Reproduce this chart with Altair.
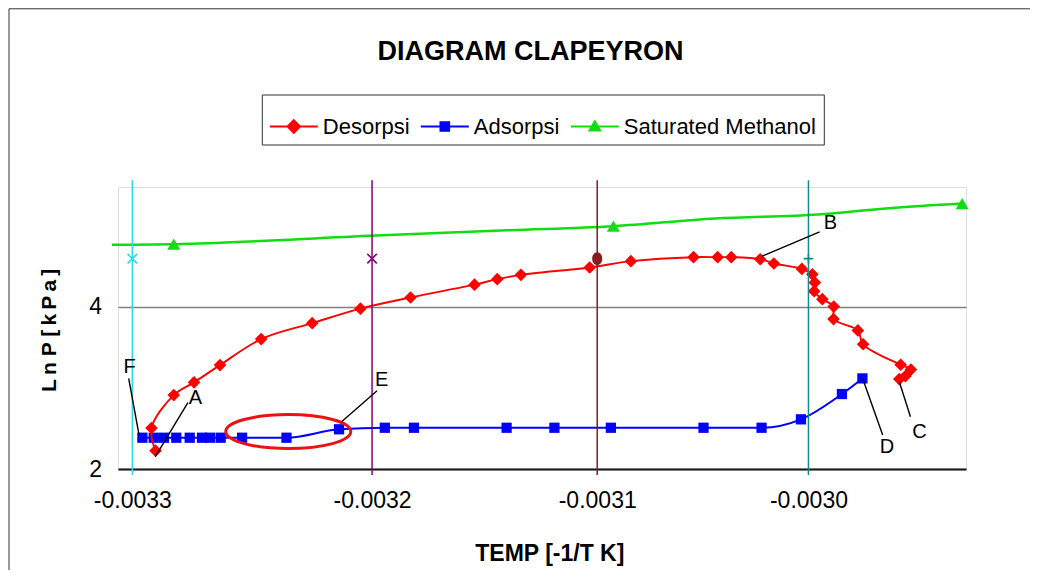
import altair as alt
import pandas as pd

# ---------------- data ----------------
chart_title = "DIAGRAM CLAPEYRON"
x_title = "TEMP [-1/T K]"
y_title = "L\u2009n P [\u2009k\u2009P\u2009a\u2009]"

series_names = ["Desorpsi", "Adsorpsi", "Saturated Methanol"]
series_colors = ["#FF0000", "#0000FF", "#11DD11"]

des_x = [-0.0032885, -0.0032903, -0.0032805, -0.0032716, -0.0032602, -0.0032421, -0.0032197, -0.0031985,
         -0.0031765, -0.0031484, -0.0031384, -0.0031280, -0.0030978, -0.0030797, -0.0030522, -0.0030416,
         -0.0030356, -0.0030229, -0.0030169, -0.0030046, -0.0030000, -0.0029989, -0.0029992, -0.0029956,
         -0.0029906, -0.0029907, -0.0029800, -0.0029777, -0.0029612, -0.0029567, -0.0029591, -0.0029618]
des_y = [2.226, 2.506, 2.912, 3.069, 3.282, 3.603, 3.800, 3.979, 4.117, 4.275, 4.343, 4.396, 4.487, 4.565,
         4.614, 4.614, 4.614, 4.589, 4.536, 4.469, 4.402, 4.300, 4.195, 4.096, 4.004, 3.850, 3.710, 3.539,
         3.286, 3.227, 3.147, 3.110]

ads_x = [-0.0032943, -0.0032893, -0.0032848, -0.0032794, -0.0032735, -0.0032681, -0.0032646, -0.0032599,
         -0.0032505, -0.0032310, -0.0032079, -0.0031878, -0.0031750, -0.0031343, -0.0031133, -0.0030885,
         -0.0030478, -0.0030223, -0.0030050, -0.0029870, -0.0029780]
ads_y = [2.386, 2.386, 2.386, 2.386, 2.386, 2.386, 2.386, 2.386, 2.386, 2.386, 2.490, 2.509, 2.509, 2.509,
         2.509, 2.509, 2.509, 2.509, 2.613, 2.925, 3.118]

sat_x = [-0.0033077, -0.0032805, -0.0031917, -0.0031328, -0.0030874, -0.0030427, -0.0029976, -0.0029650,
         -0.0029342]
sat_y = [4.766, 4.774, 4.882, 4.947, 4.996, 5.091, 5.141, 5.222, 5.276]
sat_marked = [0, 1, 0, 0, 1, 0, 0, 0, 1]

# isotherm lines (30, 40, 50, 60 degC as -1/T) -- also the x tick positions
temp_x = [-0.0032987, -0.0031934, -0.0030945, -0.0030017]
temp_colors = ["#2ED8EC", "#800080", "#8B1A1A", "#138A8A"]
temp_marker = ["x", "x", "circle", "plus"]
temp_marker_y = [4.596, 4.596, 4.596, 4.596]
temp_top = [5.563, 5.563, 5.563, 5.563]
temp_bottom = [1.926, 1.926, 1.926, 1.926]

y_ticks = [2, 4]

# point labels with leader lines
lab_text = ["A", "F", "E", "B", "C", "D"]
lab_x = [-0.0032710, -0.0032999, -0.0031892, -0.0029921, -0.0029529, -0.0029672]
lab_y = [2.872, 3.261, 3.097, 5.030, 2.460, 2.275]
lead_x1 = [-0.0032743, -0.0033003, -0.0031912, -0.0029968, -0.0029569, -0.0029691]
lead_y1 = [2.818, 3.118, 2.965, 4.926, 2.645, 2.419]
lead_x2 = [-0.0032886, -0.0032958, -0.0032068, -0.0030221, -0.0029618, -0.0029779]
lead_y2 = [2.152, 2.428, 2.583, 4.626, 3.076, 3.118]

# highlight ellipse centre
ell_x = [-0.0032302]
ell_y = [2.462]

X_DOMAIN = [-0.003305, -0.0029325]
Y_DOMAIN = [2, 5.48]

# ---------------- styling ----------------
FONT = "Liberation Sans, Arial, sans-serif"

x_scale = alt.Scale(domain=X_DOMAIN, nice=False, zero=False)
y_scale = alt.Scale(domain=Y_DOMAIN, nice=False, zero=False)

x_axis = alt.Axis(
    values=temp_x, labelExpr="replace(format(datum.value, '.4f'), '\u2212', '-')",
    grid=False, ticks=False, tickSize=0, labelFont=FONT, labelFontSize=23, labelColor="black",
    labelPadding=20, domain=True, domainColor="#1a1a1a", domainWidth=2,
    title=x_title, titleFont=FONT, titleFontSize=23, titleFontWeight="bold", titleColor="black",
    titleX=431.3, titleY=73, titleBaseline="top", titleAlign="center",
)
y_axis = alt.Axis(
    values=y_ticks, format="d", grid=True, gridColor="#808080", gridWidth=1.5, ticks=False, tickSize=0,
    domain=False, labelFont=FONT, labelFontSize=23, labelColor="black", labelPadding=16.5,
    title=y_title, titleFont=FONT, titleFontSize=21, titleFontWeight="bold", titleColor="black",
    titleX=-68.5, titleY=142.8, titleBaseline="middle", titleAlign="center", titleAngle=270,
)


def XE(field="x"):
    return alt.X(f"{field}:Q", scale=x_scale)


def YE(field="y"):
    return alt.Y(f"{field}:Q", scale=y_scale)


des_df = pd.DataFrame({"x": des_x, "y": des_y, "i": list(range(len(des_x)))})
ads_df = pd.DataFrame({"x": ads_x, "y": ads_y})
sat_df = pd.DataFrame({"x": sat_x, "y": sat_y, "m": sat_marked})
temp_df = pd.DataFrame({"x": temp_x, "c": temp_colors, "shape": temp_marker, "ym": temp_marker_y,
                        "top": temp_top, "bot": temp_bottom})
lab_df = pd.DataFrame({"t": lab_text, "x": lab_x, "y": lab_y, "x1": lead_x1, "y1": lead_y1,
                       "x2": lead_x2, "y2": lead_y2})
ell_df = pd.DataFrame({"x": ell_x, "y": ell_y})
leg_df = pd.DataFrame({"series": series_names, "x": [X_DOMAIN[0]] * 3, "y": [Y_DOMAIN[0]] * 3})
one_df = pd.DataFrame({"t": [chart_title]})

# base layer carries the axes
base = alt.Chart(ads_df).mark_line(color="#0000FF", strokeWidth=2, interpolate="monotone").encode(
    x=alt.X("x:Q", scale=x_scale, axis=x_axis, title=x_title),
    y=alt.Y("y:Q", scale=y_scale, axis=y_axis, title=y_title),
)
ads_pts = alt.Chart(ads_df).mark_point(shape="square", filled=True, color="#0000FF", size=105, opacity=1).encode(
    x=XE(), y=YE())

des_line = alt.Chart(des_df).mark_line(color="#FF0000", strokeWidth=1.9, interpolate="catmull-rom").encode(
    x=XE(), y=YE(), order="i:Q")
des_pts = alt.Chart(des_df).mark_point(shape="diamond", filled=True, color="#FF0000", size=160, opacity=1).encode(
    x=XE(), y=YE())

sat_line = alt.Chart(sat_df).mark_line(color="#11DD11", strokeWidth=2.5, interpolate="monotone").encode(
    x=XE(), y=YE())
sat_pts = alt.Chart(sat_df).transform_filter("datum.m == 1").mark_point(
    shape="triangle-up", filled=True, color="#11DD11", size=170, opacity=1).encode(x=XE(), y=YE())

temp_rules = alt.Chart(temp_df).mark_rule(strokeWidth=1.5).encode(
    x=XE(), y=YE("top"), y2="bot:Q", color=alt.Color("c:N", scale=None))
X_PATH = "M-1,-1L1,1M-1,1L1,-1"
PLUS_PATH = "M-1,0L1,0M0,-1L0,1"
temp_marks = alt.Chart(temp_df).transform_filter("datum.shape != 'circle'").transform_calculate(
    p=f"datum.shape == 'x' ? '{X_PATH}' : '{PLUS_PATH}'"
).mark_point(filled=False, size=90, strokeWidth=1.6, opacity=1).encode(
    x=XE(), y=YE("ym"), shape=alt.Shape("p:N", scale=None), color=alt.Color("c:N", scale=None))
temp_dot = alt.Chart(temp_df).transform_filter("datum.shape == 'circle'").mark_point(
    shape="M-0.8,0A0.8,1,0,1,1,0.8,0A0.8,1,0,1,1,-0.8,0Z", filled=True, size=160, opacity=1).encode(
    x=XE(), y=YE("ym"), color=alt.Color("c:N", scale=None))

ELL = ("M-1,0C-1,-0.15 -0.552,-0.272 0,-0.272C0.552,-0.272 1,-0.15 1,0"
       "C1,0.15 0.552,0.272 0,0.272C-0.552,0.272 -1,0.15 -1,0Z")
ellipse = alt.Chart(ell_df).mark_point(shape=ELL, filled=False, size=15625, color="#EE1111",
                                       strokeWidth=3, opacity=1).encode(x=XE(), y=YE())

leaders = alt.Chart(lab_df).mark_rule(color="black", strokeWidth=1.4).encode(
    x=XE("x1"), y=YE("y1"), x2="x2:Q", y2="y2:Q")
letters = alt.Chart(lab_df).mark_text(font=FONT, fontSize=20, color="black", align="center",
                                      baseline="middle").encode(x=XE(), y=YE(), text="t:N")

# legend (line + marker symbols) from an empty helper layer
leg = alt.Legend(title=None, orient="none", legendX=143.8, legendY=-92.5, direction="horizontal", columns=3,
                 symbolSize=2304, symbolStrokeWidth=2, labelFont=FONT, labelFontSize=22, labelColor="black",
                 labelOffset=4, labelLimit=400, columnPadding=7, padding=7, strokeColor="#333333",
                 fillColor="white")
legend_paths = ["M-1,0L1,0M0,-0.26L0.26,0L0,0.26L-0.26,0Z",
                "M-1,0L1,0M-0.18,-0.18L0.18,-0.18L0.18,0.18L-0.18,0.18Z",
                "M-1,0L1,0M0,-0.22L0.22,0.17L-0.22,0.17Z"]
legend_layer = alt.Chart(leg_df).transform_filter("false").mark_point(filled=True, opacity=1).encode(
    x=XE(), y=YE(),
    fill=alt.Fill("series:N", scale=alt.Scale(domain=series_names, range=series_colors), legend=leg),
    stroke=alt.Stroke("series:N", scale=alt.Scale(domain=series_names, range=series_colors), legend=leg),
    shape=alt.Shape("series:N", scale=alt.Scale(domain=series_names, range=legend_paths), legend=leg),
)

# chart title and outer frame (top and left edges of the chart box)
title_mark = alt.Chart(one_df).mark_text(font=FONT, fontSize=27, fontWeight="bold", color="black",
                                         align="center", baseline="alphabetic").encode(
    x=alt.value(412.5), y=alt.value(-127.5), text="t:N")
frame_top = alt.Chart(one_df).mark_rule(color="#333333", strokeWidth=1).encode(
    x=alt.value(-109), x2=alt.value(912), y=alt.value(-178.2))
frame_left = alt.Chart(one_df).mark_rule(color="#333333", strokeWidth=1).encode(
    x=alt.value(-109), y=alt.value(-178.2), y2=alt.value(383))

chart = alt.layer(
    frame_top, frame_left, title_mark, base, ads_pts, des_line, des_pts, sat_line, sat_pts, temp_rules,
    temp_marks, temp_dot, ellipse, leaders, letters, legend_layer
).properties(
    width=848, height=282,
    padding={"left": 0, "top": 0, "right": 0, "bottom": 0},
).configure_view(stroke="#6b6b6b", strokeWidth=2).configure(background="white")

chart.save("out.html", embed_options={"renderer": "svg", "actions": False})
